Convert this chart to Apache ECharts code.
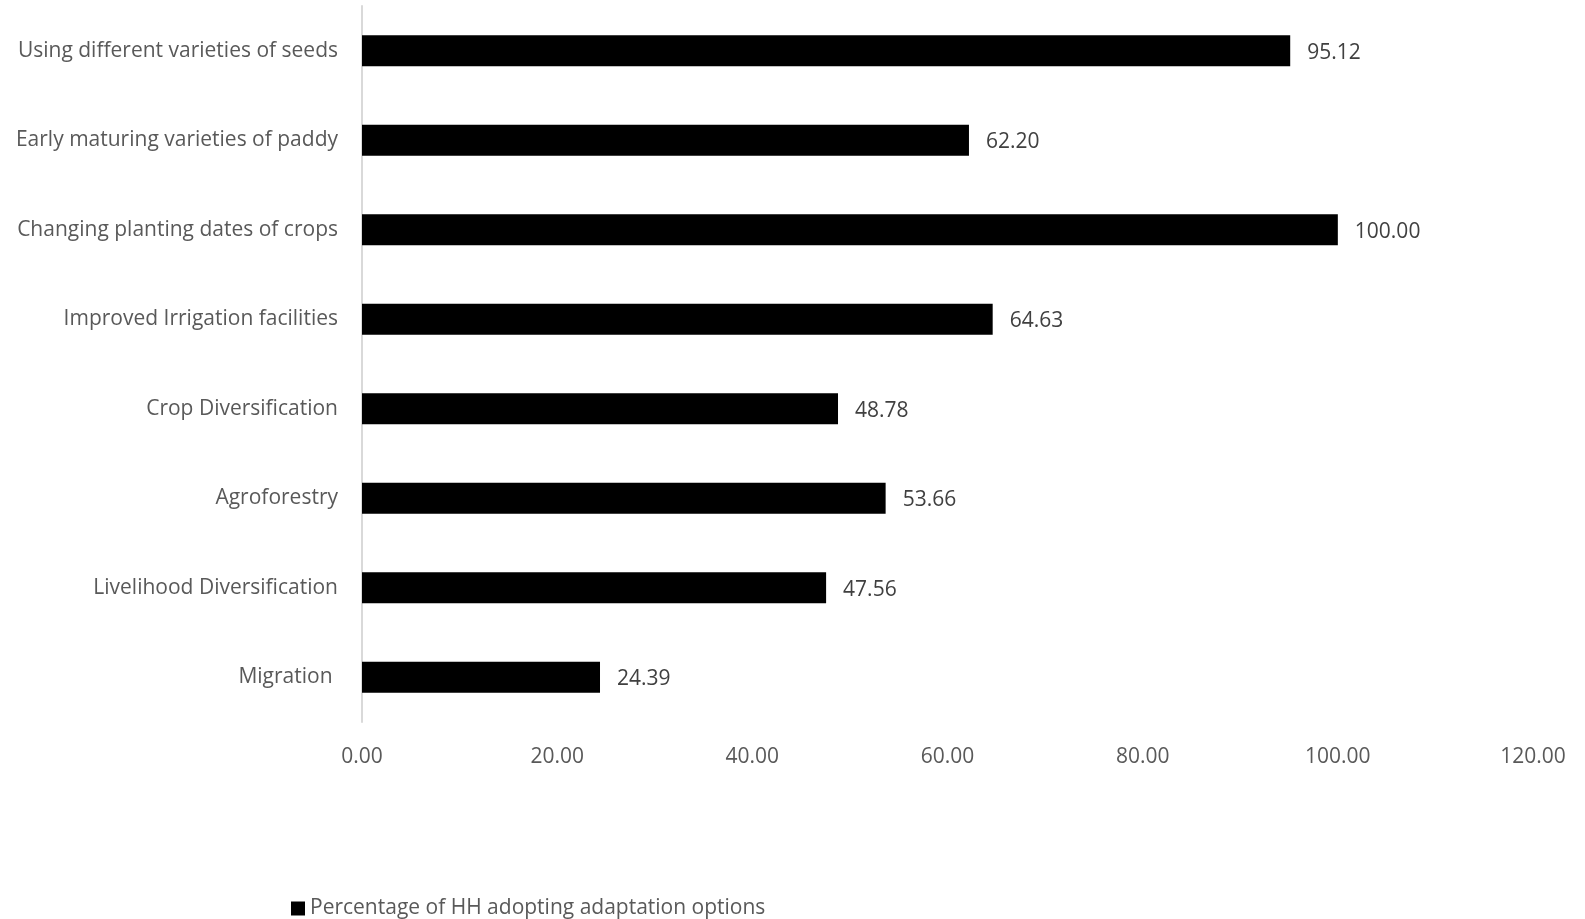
<!DOCTYPE html>
<html>
<head>
<meta charset="utf-8">
<script src="https://cdn.jsdelivr.net/npm/echarts@6/dist/echarts.min.js"></script>
<style>
html,body{margin:0;padding:0;background:#fff;}
#chart{width:1585px;height:919px;}
</style>
</head>
<body>
<div id="chart"></div>
<script>
const categories = [
  "Using different varieties of seeds",
  "Early maturing varieties of paddy",
  "Changing planting dates of crops",
  "Improved Irrigation facilities",
  "Crop Diversification",
  "Agroforestry",
  "Livelihood Diversification",
  "Migration "
];
const values = [95.12, 62.20, 100.00, 64.63, 48.78, 53.66, 47.56, 24.39];
const seriesName = "Percentage of HH adopting adaptation options";
const xTicks = { min: 0, max: 120, interval: 20 };

const FONT = "'Open Sans', sans-serif";
const chart = echarts.init(document.getElementById('chart'), null, {renderer: 'canvas'});
chart.setOption({
  animation: false,
  backgroundColor: '#ffffff',
  grid: { left: 362, right: 52, top: 6, bottom: 197, containLabel: false },
  legend: {
    data: [seriesName],
    left: 286, top: 893,
    icon: 'rect', itemWidth: 14, itemHeight: 14, itemGap: 5,
    textStyle: { fontFamily: FONT, fontSize: 21, color: '#595959' }
  },
  xAxis: {
    type: 'value',
    min: xTicks.min, max: xTicks.max, interval: xTicks.interval,
    axisLine: { show: false },
    axisTick: { show: false },
    splitLine: { show: false },
    axisLabel: {
      formatter: v => v.toFixed(2),
      fontFamily: FONT, fontSize: 21, color: '#595959', margin: 25
    }
  },
  yAxis: {
    type: 'category',
    data: categories.slice().reverse(),
    axisLine: { show: true, lineStyle: { color: '#d9d9d9', width: 2 } },
    axisTick: { show: false },
    axisLabel: { fontFamily: FONT, fontSize: 21, color: '#595959', margin: 24, padding: [8, 0, 0, 0] }
  },
  series: [{
    name: seriesName,
    type: 'bar',
    data: values.slice().reverse(),
    barWidth: 31,
    itemStyle: { color: '#000000' },
    label: {
      show: true, position: 'right', distance: 17, offset: [0, 2],
      formatter: p => p.value.toFixed(2),
      fontFamily: FONT, fontSize: 21, color: '#404040'
    }
  }]
});
</script>
</body>
</html>
